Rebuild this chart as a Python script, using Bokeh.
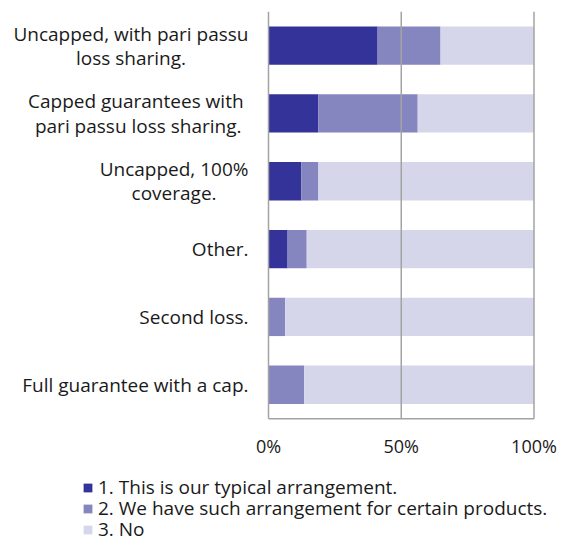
from bokeh.plotting import figure
from bokeh.models import ColumnDataSource, Legend, LegendItem
from bokeh.core.properties import value
from bokeh.embed import file_html
from bokeh.resources import INLINE

categories = [
    "Uncapped, with pari passu\nloss sharing.",
    "Capped  guarantees with\npari passu loss sharing.",
    "Uncapped, 100%\ncoverage.",
    "Other.",
    "Second loss.",
    "Full guarantee with a cap.",
]
typical = [41.1, 18.8, 12.4, 7.2, 0.0, 0.0]
certain = [23.7, 37.4, 6.4, 7.2, 6.3, 13.4]
no = [35.2, 43.8, 81.2, 85.6, 93.7, 86.6]
series_labels = [
    "1. This is our typical arrangement.",
    "2. We have such arrangement for certain products.",
    "3. No",
]
colors = ["#333399", "#8585C0", "#D6D6EA"]
tick_values = [0, 50, 100]
tick_labels = ["0%", "50%", "100%"]

FONT = "Open Sans"
TEXT_COLOR = "#1a1a1a"
GRID_COLOR = "#A3A3A3"

n = len(categories)
ypos = [-i for i in range(n)]           # top category first
band_top = 0.5
band_bottom = -(n - 0.5)

source = ColumnDataSource(dict(y=ypos, label=categories,
                               typical=typical, certain=certain, no=no,
                               zero=[0] * n))

# full-canvas frame; the ranges place 0%..100% and the category bands
p = figure(width=563, height=542, output_backend="svg", toolbar_location=None,
           x_range=(-100.94, 111.11), y_range=(-7.326, 0.665),
           min_border=0)
p.outline_line_color = None
p.axis.visible = False
p.grid.visible = False

renderers = p.hbar_stack(["typical", "certain", "no"], y="y", height=0.565,
                         color=colors, line_color=None, source=source)

# grid lines (on top of bars) and bottom axis line
p.segment(x0=tick_values, x1=tick_values, y0=[band_top] * 3, y1=[band_bottom] * 3,
          line_color=GRID_COLOR, line_width=1.5)
p.segment(x0=[tick_values[0]], x1=[tick_values[-1]], y0=[band_bottom], y1=[band_bottom],
          line_color=GRID_COLOR, line_width=1.5)

# tick labels
p.text(x=tick_values, y=[band_bottom] * 3, text=tick_labels, y_offset=27,
       text_align="center", text_baseline="middle",
       text_font=value(FONT), text_font_size="18px", text_color=TEXT_COLOR)

# category labels
p.text(x="zero", y="y", text="label", source=source, x_offset=-20,
       anchor="center_right", text_align="center", text_baseline="middle",
       text_font=value(FONT), text_font_size="19px", text_color=TEXT_COLOR,
       text_line_height=0.93)

# legend: one row per series, stacked with a tight row pitch
row_pitch = 21
for k, (lab, r) in enumerate(zip(series_labels, renderers)):
    leg = Legend(items=[LegendItem(label=lab, renderers=[r])],
                 location=(82, row_pitch * (len(series_labels) - 1 - k)),
                 orientation="vertical",
                 label_text_font=FONT, label_text_font_size="19px", label_text_color=TEXT_COLOR,
                 glyph_width=11, glyph_height=11, label_standoff=5, spacing=0,
                 label_height=20, padding=0, margin=0,
                 border_line_color=None, background_fill_alpha=0)
    p.add_layout(leg)

open("out.html", "w").write(file_html(p, INLINE))
